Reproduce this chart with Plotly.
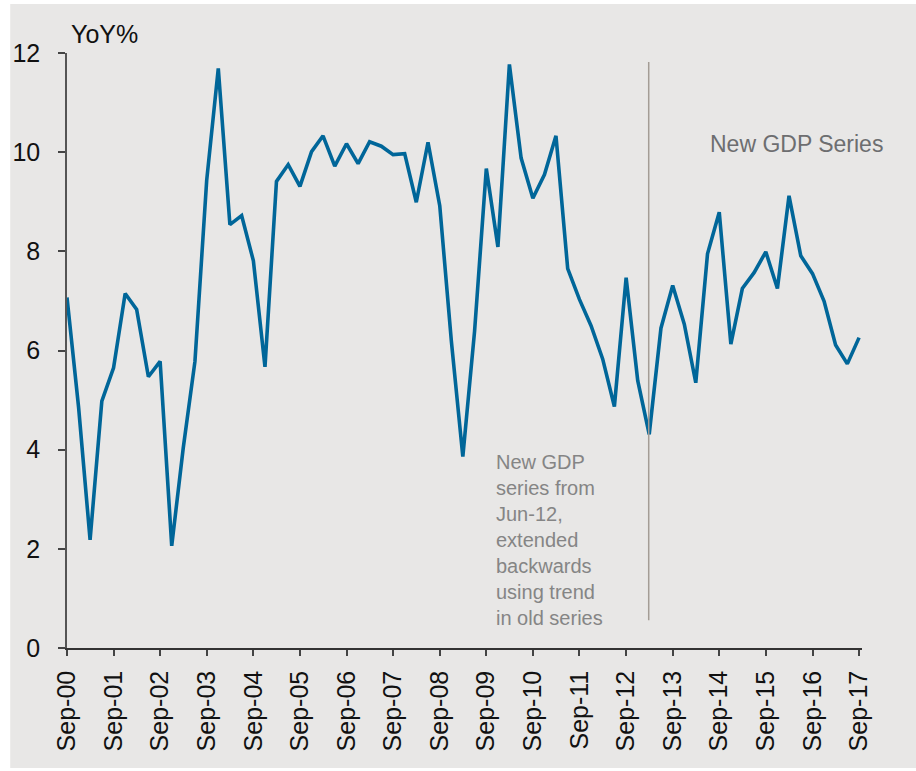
import plotly.graph_objects as go

# ---- data ----
dates = []
for i in range(69):
    total = 2000 * 12 + 8 + 3 * i
    dates.append(f"{total // 12}-{total % 12 + 1:02d}-01")

gdp_yoy = [7.07, 4.85, 2.18, 4.98, 5.65, 7.15, 6.83, 5.47, 5.78, 2.06, 4.03, 5.78,
           9.43, 11.69, 8.54, 8.72, 7.81, 5.67, 9.41, 9.75, 9.31, 10.01, 10.33, 9.72,
           10.17, 9.77, 10.21, 10.12, 9.95, 9.97, 8.99, 10.20, 8.92, 6.19, 3.86, 6.39,
           9.67, 8.09, 11.77, 9.88, 9.07, 9.55, 10.33, 7.65, 7.03, 6.50, 5.83, 4.87,
           7.47, 5.39, 4.31, 6.45, 7.31, 6.53, 5.35, 7.95, 8.79, 6.13, 7.25, 7.57,
           7.99, 7.25, 9.12, 7.91, 7.55, 6.99, 6.11, 5.73, 6.26]

tick_dates = [f"{2000 + k}-09-01" for k in range(18)]
tick_labels = [f"Sep-{k:02d}" for k in range(18)]
y_ticks = [0, 2, 4, 6, 8, 10, 12]

break_date = "2013-02-25"
break_y = [0.56, 11.82]

note_text = ("New GDP<br>series from<br>Jun-12,<br>extended<br>backwards"
             "<br>using trend<br>in old series")

# ---- layout constants ----
W, H = 916, 771
ML, MR, MT, MB = 64, 54, 53, 123
PW, PH = W - ML - MR, H - MT - MB


def px_x(p):
    return (p - ML) / PW


def px_y(p):
    return (H - MB - p) / PH


BG = "#e8e7e6"
FONT = "Liberation Sans, Arial, sans-serif"

fig = go.Figure()
fig.add_trace(go.Scatter(x=dates, y=gdp_yoy, mode="lines",
                         line=dict(color="#006699", width=3.6),
                         showlegend=False, hoverinfo="skip"))
fig.add_trace(go.Scatter(x=[break_date, break_date], y=break_y, mode="lines",
                         line=dict(color="#a39c95", width=1.5),
                         showlegend=False, hoverinfo="skip"))

fig.add_shape(type="rect", xref="paper", yref="paper",
              x0=px_x(7), x1=px_x(W + 2), y0=px_y(768), y1=px_y(4),
              fillcolor=BG, line=dict(width=0), layer="below")

fig.add_annotation(text="YoY%", xref="paper", yref="paper",
                   x=px_x(66), y=px_y(34), xanchor="left", yanchor="middle",
                   showarrow=False, font=dict(family=FONT, size=25, color="#111111"))
fig.add_annotation(text="New GDP Series", x="2014-06-05", y=10.17,
                   xanchor="left", yanchor="middle", showarrow=False,
                   font=dict(family=FONT, size=23, color="#6d6e70"))
fig.add_annotation(text=note_text, x="2009-11-01", y=4.02, xanchor="left",
                   yanchor="top", align="left", showarrow=False,
                   font=dict(family=FONT, size=20, color="#858585"))

fig.update_layout(
    width=W, height=H,
    margin=dict(l=ML, r=MR, t=MT, b=MB, pad=0),
    paper_bgcolor="white", plot_bgcolor="rgba(0,0,0,0)",
    font=dict(family=FONT, size=25, color="#111111"),
    xaxis=dict(range=["2000-09-01", "2017-09-24"], tickvals=tick_dates,
               ticktext=tick_labels, tickangle=-90, showgrid=False,
               zeroline=False, showline=True, linecolor="#333333", linewidth=1.5,
               ticks="outside", ticklen=6, tickcolor="#444444", tickwidth=1.5,
               ticklabelstandoff=5,
               tickfont=dict(family=FONT, size=25, color="#111111")),
    yaxis=dict(range=[0, 12], tickvals=y_ticks, showgrid=False, zeroline=False,
               showline=True, linecolor="#555555", linewidth=1.5,
               ticks="outside", ticklen=7, tickcolor="#444444", tickwidth=1.5,
               ticklabelstandoff=13,
               tickfont=dict(family=FONT, size=25, color="#111111")),
)

fig.write_html("out.html")
